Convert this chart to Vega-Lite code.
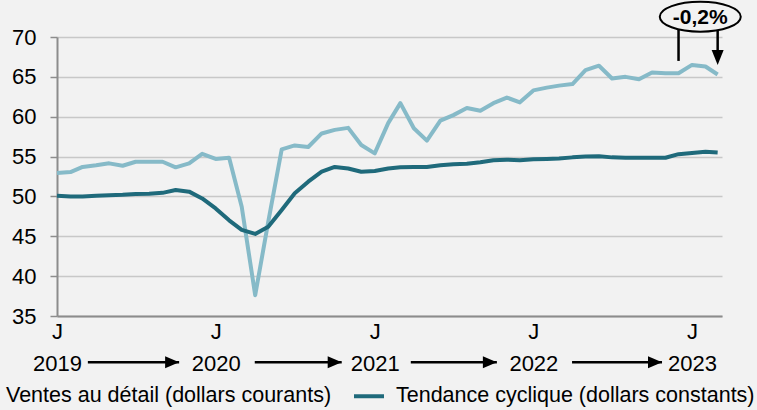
{
  "$schema": "https://vega.github.io/schema/vega-lite/v6.json",
  "width": 665,
  "height": 279,
  "autosize": {"type": "none"},
  "padding": {"left": 57, "top": 37, "right": 35, "bottom": 94},
  "background": "#f2f2f2",
  "config": {
    "view": {"stroke": null},
    "font": "Liberation Sans",
    "legend": {
      "orient": "none",
      "legendX": -95,
      "legendY": 342,
      "direction": "horizontal",
      "symbolType": "stroke",
      "symbolStrokeWidth": 4,
      "symbolSize": 900,
      "labelFontSize": 21.5,
      "labelFont": "Liberation Sans",
      "labelColor": "#000000",
      "labelOffset": 10,
      "columnPadding": 14,
      "labelLimit": 700
    }
  },
  "datasets": {
    "series": [
      {"date": "2019-01-01", "ventes": 52.95, "tendance": 50.1},
      {"date": "2019-02-01", "ventes": 53.05, "tendance": 50.0},
      {"date": "2019-03-01", "ventes": 53.7, "tendance": 50.0},
      {"date": "2019-04-01", "ventes": 53.9, "tendance": 50.1},
      {"date": "2019-05-01", "ventes": 54.15, "tendance": 50.15},
      {"date": "2019-06-01", "ventes": 53.85, "tendance": 50.2},
      {"date": "2019-07-01", "ventes": 54.35, "tendance": 50.3},
      {"date": "2019-08-01", "ventes": 54.35, "tendance": 50.35},
      {"date": "2019-09-01", "ventes": 54.35, "tendance": 50.45},
      {"date": "2019-10-01", "ventes": 53.65, "tendance": 50.8},
      {"date": "2019-11-01", "ventes": 54.15, "tendance": 50.6},
      {"date": "2019-12-01", "ventes": 55.35, "tendance": 49.75},
      {"date": "2020-01-01", "ventes": 54.7, "tendance": 48.5},
      {"date": "2020-02-01", "ventes": 54.85, "tendance": 47.0},
      {"date": "2020-03-01", "ventes": 48.7, "tendance": 45.8},
      {"date": "2020-04-01", "ventes": 37.6, "tendance": 45.3},
      {"date": "2020-05-01", "ventes": 46.8, "tendance": 46.2},
      {"date": "2020-06-01", "ventes": 55.9, "tendance": 48.3},
      {"date": "2020-07-01", "ventes": 56.4, "tendance": 50.4},
      {"date": "2020-08-01", "ventes": 56.2, "tendance": 51.85},
      {"date": "2020-09-01", "ventes": 57.9, "tendance": 53.1},
      {"date": "2020-10-01", "ventes": 58.35, "tendance": 53.7},
      {"date": "2020-11-01", "ventes": 58.6, "tendance": 53.5},
      {"date": "2020-12-01", "ventes": 56.45, "tendance": 53.1},
      {"date": "2021-01-01", "ventes": 55.4, "tendance": 53.2},
      {"date": "2021-02-01", "ventes": 59.2, "tendance": 53.5},
      {"date": "2021-03-01", "ventes": 61.7, "tendance": 53.65},
      {"date": "2021-04-01", "ventes": 58.55, "tendance": 53.7},
      {"date": "2021-05-01", "ventes": 57.0, "tendance": 53.7},
      {"date": "2021-06-01", "ventes": 59.5, "tendance": 53.9},
      {"date": "2021-07-01", "ventes": 60.2, "tendance": 54.05},
      {"date": "2021-08-01", "ventes": 61.1, "tendance": 54.1},
      {"date": "2021-09-01", "ventes": 60.75, "tendance": 54.3},
      {"date": "2021-10-01", "ventes": 61.7, "tendance": 54.55},
      {"date": "2021-11-01", "ventes": 62.4, "tendance": 54.6},
      {"date": "2021-12-01", "ventes": 61.8, "tendance": 54.55},
      {"date": "2022-01-01", "ventes": 63.3, "tendance": 54.65},
      {"date": "2022-02-01", "ventes": 63.65, "tendance": 54.7},
      {"date": "2022-03-01", "ventes": 63.9, "tendance": 54.75},
      {"date": "2022-04-01", "ventes": 64.1, "tendance": 54.9},
      {"date": "2022-05-01", "ventes": 65.85, "tendance": 55.0},
      {"date": "2022-06-01", "ventes": 66.4, "tendance": 55.05},
      {"date": "2022-07-01", "ventes": 64.8, "tendance": 54.9},
      {"date": "2022-08-01", "ventes": 65.0, "tendance": 54.85},
      {"date": "2022-09-01", "ventes": 64.7, "tendance": 54.85},
      {"date": "2022-10-01", "ventes": 65.55, "tendance": 54.85},
      {"date": "2022-11-01", "ventes": 65.45, "tendance": 54.85},
      {"date": "2022-12-01", "ventes": 65.45, "tendance": 55.3},
      {"date": "2023-01-01", "ventes": 66.5, "tendance": 55.45},
      {"date": "2023-02-01", "ventes": 66.3, "tendance": 55.6},
      {"date": "2023-03-01", "ventes": 65.3, "tendance": 55.5}
    ],
    "arrows": [
      {"start": "2019-03-13", "tip": "2019-10-09"},
      {"start": "2020-03-31", "tip": "2020-10-17"},
      {"start": "2021-03-25", "tip": "2021-10-09"},
      {"start": "2022-03-31", "tip": "2022-10-24"}
    ],
    "bracket": [
      {"d": "2022-12-01"},
      {"d": "2023-03-01"}
    ],
    "label": [
      {"d": "2023-01-20", "txt": "-0,2%"}
    ]
  },
  "layer": [
    {
      "data": {"name": "series"},
      "transform": [{"fold": ["ventes", "tendance"], "as": ["serie", "valeur"]}],
      "mark": {"type": "line", "strokeWidth": 4, "strokeJoin": "round", "clip": false},
      "encoding": {
        "x": {
          "field": "date",
          "type": "temporal",
          "title": null,
          "scale": {
            "type": "utc",
            "domain": [
              {"year": 2019, "month": 1, "date": 1, "utc": true},
              {"year": 2023, "month": 3, "date": 11, "utc": true}
            ]
          },
          "axis": {
            "values": [
              {"year": 2019, "month": 1, "date": 1, "utc": true},
              {"year": 2020, "month": 1, "date": 1, "utc": true},
              {"year": 2021, "month": 1, "date": 1, "utc": true},
              {"year": 2022, "month": 1, "date": 1, "utc": true},
              {"year": 2023, "month": 1, "date": 1, "utc": true}
            ],
            "tickCount": 10,
            "labelExpr": "['J', utcFormat(datum.value, '%Y')]",
            "labelFontSize": 22,
            "labelColor": "#000000",
            "labelLineHeight": 32,
            "labelBaseline": "top",
            "labelPadding": 5,
            "labelOverlap": false,
            "labelBound": false,
            "labelFlush": false,
            "ticks": false,
            "grid": false,
            "domainColor": "#8c8c8c",
            "domainWidth": 2
          }
        },
        "y": {
          "field": "valeur",
          "type": "quantitative",
          "title": null,
          "scale": {"domain": [35, 70], "nice": false, "zero": false},
          "axis": {
            "values": [35, 40, 45, 50, 55, 60, 65, 70],
            "tickCount": 10,
            "labelOverlap": false,
            "labelBound": false,
            "labelFlush": false,
            "labelFontSize": 22,
            "labelColor": "#000000",
            "labelPadding": 14,
            "tickSize": 7,
            "tickColor": "#8c8c8c",
            "tickWidth": 1.5,
            "domainColor": "#8c8c8c",
            "domainWidth": 2,
            "gridColor": "#c8c8c8",
            "gridWidth": 1.5
          }
        },
        "color": {
          "field": "serie",
          "type": "nominal",
          "scale": {"domain": ["ventes", "tendance"], "range": ["#86bac8", "#1f6a7b"]},
          "legend": {
            "title": null,
            "labelExpr": "datum.value == 'ventes' ? 'Ventes au détail (dollars courants)' : 'Tendance cyclique (dollars constants)'"
          }
        }
      }
    },
    {
      "data": {"name": "arrows"},
      "mark": {"type": "rule", "color": "#000000", "strokeWidth": 2.5, "clip": false},
      "encoding": {
        "x": {"field": "start", "type": "temporal", "title": null},
        "x2": {"field": "tip"},
        "y": {"datum": 29.2, "type": "quantitative"}
      }
    },
    {
      "data": {"name": "arrows"},
      "mark": {"type": "point", "shape": "M-2,-0.85L0,0L-2,0.85Z", "filled": true, "color": "#000000", "opacity": 1, "size": 196, "clip": false},
      "encoding": {
        "x": {"field": "tip", "type": "temporal", "title": null},
        "y": {"datum": 29.2, "type": "quantitative"}
      }
    },
    {
      "data": {"name": "bracket"},
      "mark": {"type": "rule", "color": "#000000", "strokeWidth": 2.5, "clip": false},
      "encoding": {
        "x": {"field": "d", "type": "temporal", "title": null},
        "y": {"datum": 72.5, "type": "quantitative"},
        "y2": {"datum": 67.0}
      }
    },
    {
      "data": {"values": [{"d": "2023-03-01"}]},
      "mark": {"type": "point", "shape": "M-0.8,-2L0,0L0.8,-2Z", "filled": true, "color": "#000000", "opacity": 1, "size": 225, "clip": false},
      "encoding": {
        "x": {"field": "d", "type": "temporal", "title": null},
        "y": {"datum": 66.5, "type": "quantitative"}
      }
    },
    {
      "data": {"name": "label"},
      "mark": {"type": "point", "shape": "M-1,0A1,0.37,0,1,0,1,0A1,0.37,0,1,0,-1,0Z", "filled": false, "fill": "#f2f2f2", "fillOpacity": 1, "stroke": "#000000", "strokeWidth": 2, "opacity": 1, "size": 6561, "clip": false},
      "encoding": {
        "x": {"field": "d", "type": "temporal", "title": null},
        "y": {"datum": 72.55, "type": "quantitative"}
      }
    },
    {
      "data": {"name": "label"},
      "mark": {"type": "text", "font": "Liberation Sans", "fontSize": 21, "fontWeight": "bold", "color": "#000000", "align": "center", "baseline": "middle", "dy": 1, "clip": false},
      "encoding": {
        "x": {"field": "d", "type": "temporal", "title": null},
        "y": {"datum": 72.55, "type": "quantitative"},
        "text": {"field": "txt"}
      }
    }
  ]
}
